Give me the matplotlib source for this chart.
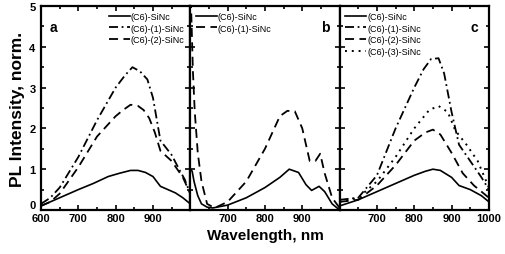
import matplotlib
matplotlib.use("Agg")
import matplotlib.pyplot as plt
from matplotlib.ticker import MultipleLocator

# panel a
a_wl_0 = [600, 650, 700, 740, 780, 810, 840, 860, 880, 900, 920, 940, 960, 980, 1000]
a_c6 = [0.1, 0.3, 0.5, 0.65, 0.82, 0.9, 0.97, 0.97, 0.92, 0.82, 0.58, 0.5, 0.42, 0.3, 0.15]
a_wl_1 = [600, 625, 650, 700, 750, 800, 825, 845, 865, 885, 900, 920, 950, 970, 985, 1000]
a_c6_1 = [0.15, 0.3, 0.55, 1.3, 2.2, 3.0, 3.3, 3.5, 3.4, 3.2, 2.75, 1.7, 1.35, 1.0, 0.75, 0.4]
a_wl_2 = [600, 625, 650, 700, 750, 800, 820, 840, 860, 875, 890, 905, 920, 950, 980, 1000]
a_c6_2 = [0.1, 0.2, 0.4, 1.05, 1.8, 2.3, 2.45, 2.58, 2.55, 2.45, 2.25, 1.9, 1.45, 1.2, 0.8, 0.4]

# panel b
b_wl_0 = [600, 605, 610, 620, 630, 645, 660, 700, 750, 800, 840, 865, 890, 910, 925, 945, 960, 980, 1000]
b_c6 = [1.0, 0.95, 0.7, 0.35, 0.15, 0.07, 0.05, 0.12, 0.3, 0.55, 0.8, 1.0, 0.92, 0.62, 0.48, 0.58, 0.45, 0.15, 0.0]
b_wl_1 = [600, 603, 607, 612, 620, 630, 645, 665, 700, 750, 800, 840, 860, 880, 900, 920, 935, 948, 960, 980, 1000]
b_c6_1 = [5.5, 4.7, 3.4, 2.4, 1.4, 0.7, 0.15, 0.05, 0.2, 0.7, 1.5, 2.3, 2.43, 2.42, 2.0, 1.2, 1.2, 1.38, 0.9, 0.3, 0.05]

# panel c
c_wl_0 = [600, 650, 700, 750, 800, 830, 850, 870, 900, 920, 950, 980, 1000]
c_c6 = [0.1, 0.25, 0.45, 0.65, 0.85, 0.95, 1.0, 0.97, 0.8, 0.6, 0.5, 0.35, 0.2]
c_wl_1 = [600, 650, 700, 750, 800, 825, 845, 865, 880, 900, 920, 950, 980, 1000]
c_c6_1 = [0.25, 0.3, 0.85, 2.0, 3.0, 3.45, 3.7, 3.72, 3.35, 2.4, 1.6, 1.2, 0.8, 0.5]
c_wl_2 = [600, 650, 700, 750, 800, 830, 850, 870, 900, 930, 960, 1000]
c_c6_2 = [0.2, 0.25, 0.6, 1.1, 1.7, 1.9, 1.97, 1.85, 1.4, 0.9, 0.6, 0.3]
c_wl_3 = [600, 650, 700, 750, 800, 840, 865, 890, 910, 940, 970, 1000]
c_c6_3 = [0.2, 0.3, 0.7, 1.3, 2.0, 2.45, 2.55, 2.4, 1.95, 1.6, 1.2, 0.55]

x_ticks = [600, 700, 800, 900, 1000]
y_ticks = [0, 1, 2, 3, 4, 5]

plt.rcParams['font.family'] = ['Liberation Sans', 'DejaVu Sans']
plt.rcParams['font.weight'] = 'bold'

fig = plt.figure(figsize=(5.05, 2.55), dpi=100)

left = 41 / 505
width = 149.3 / 505
bottom = 1 - 211 / 255
height = 204 / 255

solid = dict(color='k', lw=1.2, ls='-')
dashdot = dict(color='k', lw=1.3, ls=(0, (5, 2, 1, 2)))
dashed = dict(color='k', lw=1.3, ls=(0, (5, 3)))
dotted = dict(color='k', lw=1.4, ls=(0, (1, 2.5)))

panels = [
    ('a', [(a_wl_0, a_c6, '(C6)-SiNc', solid),
           (a_wl_1, a_c6_1, '(C6)-(1)-SiNc', dashdot),
           (a_wl_2, a_c6_2, '(C6)-(2)-SiNc', dashed)]),
    ('b', [(b_wl_0, b_c6, '(C6)-SiNc', solid),
           (b_wl_1, b_c6_1, '(C6)-(1)-SiNc', dashed)]),
    ('c', [(c_wl_0, c_c6, '(C6)-SiNc', solid),
           (c_wl_1, c_c6_1, '(C6)-(1)-SiNc', dashdot),
           (c_wl_2, c_c6_2, '(C6)-(2)-SiNc', dashed),
           (c_wl_3, c_c6_3, '(C6)-(3)-SiNc', dotted)]),
]

leg_opts = dict(frameon=False, prop={'size': 6.5, 'weight': 'normal'},
                handlelength=2.3, handletextpad=0.1, labelspacing=0.3,
                borderaxespad=0.45, borderpad=0.2)

for i, (letter, series) in enumerate(panels):
    ax = fig.add_axes([left + i * width, bottom, width, height])
    for wl, vals, lab, st in series:
        ax.plot(wl, vals, label=lab, **st)
    ax.set_xlim(600, 1000)
    ax.set_ylim(0, 5)
    for s in ax.spines.values():
        s.set_linewidth(1.6)
    ax.set_xticks(x_ticks)
    ax.xaxis.set_minor_locator(MultipleLocator(50))
    ax.set_yticks(y_ticks)
    ax.yaxis.set_minor_locator(MultipleLocator(0.5))
    ax.tick_params(which='both', direction='in', top=True, right=True, width=1.2)
    ax.tick_params(which='major', length=3.5, labelsize=8, pad=2)
    ax.tick_params(axis='y', which='major', pad=4)
    ax.tick_params(which='minor', length=2)
    if i < 2:
        ax.set_xticklabels(['600', '700', '800', '900', ''])
    if i > 0:
        ax.set_xticklabels(['', '700', '800', '900', '1000' if i == 2 else ''])
        ax.set_yticklabels([])
    else:
        ax.set_ylabel('PL Intensity, norm.', fontsize=12.5, fontweight='bold', labelpad=3)
        # lift the "0" so it sits just above "600"
        ax.get_yticklabels()[0].set_verticalalignment('bottom')
    if i == 1:
        ax.set_xlabel('Wavelength, nm', fontsize=11, fontweight='bold', labelpad=4)

    if letter == 'a':
        ax.text(0.06, 0.93, letter, transform=ax.transAxes, fontsize=10,
                fontweight='bold', va='top', ha='left')
        ax.legend(loc='upper right', **leg_opts)
    else:
        ax.text(0.93, 0.93, letter, transform=ax.transAxes, fontsize=10,
                fontweight='bold', va='top', ha='right')
        ax.legend(loc='upper left', **leg_opts)

fig.savefig('out.png', dpi=100)
